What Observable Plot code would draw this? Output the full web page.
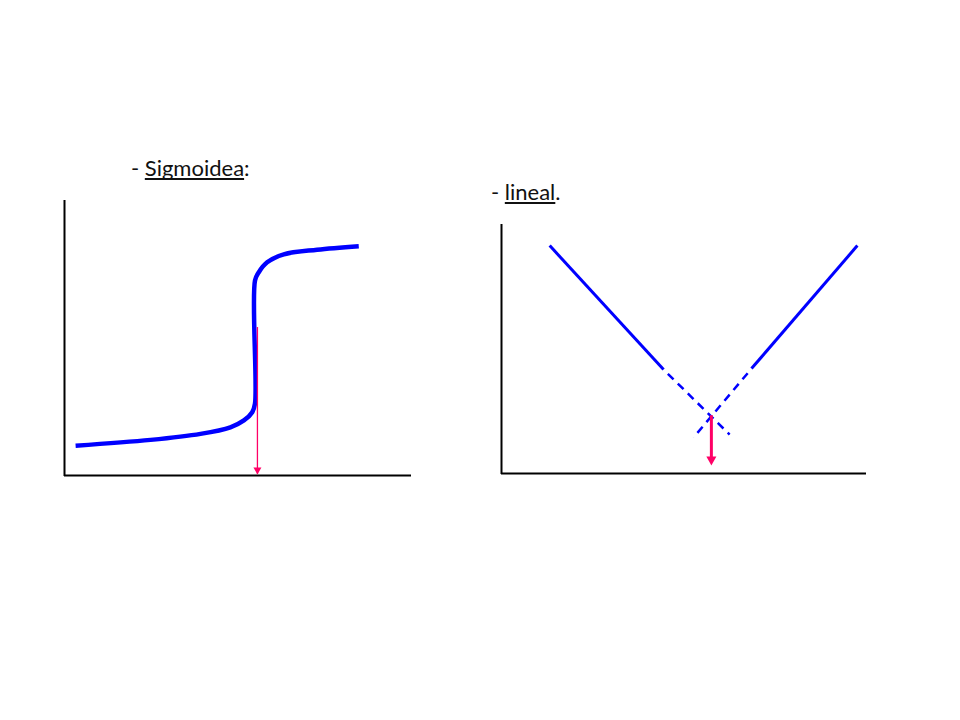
<!DOCTYPE html>
<html>
<head>
<meta charset="utf-8">
<script src="https://cdn.jsdelivr.net/npm/d3@7"></script>
<script src="https://cdn.jsdelivr.net/npm/@observablehq/plot@0.6"></script>
<style>
  html, body { margin: 0; padding: 0; background: #fff; }
  #page { position: relative; width: 960px; height: 720px; overflow: hidden; background: #fff;
          font-family: Lato, "Open Sans", sans-serif; }
  .titulo { position: absolute; font-size: 22px; line-height: 22px; color: #111; white-space: nowrap; }
  .titulo u { text-decoration-thickness: 2px; text-underline-offset: 2px; text-decoration-skip-ink: none; }
  .panel { position: absolute; }
  .panel svg { display: block; background: transparent; }
</style>
</head>
<body>
<div id="page">
  <div class="titulo" id="t1"></div>
  <div class="titulo" id="t2"></div>
  <div class="panel" id="p1"></div>
  <div class="panel" id="p2"></div>
</div>
<script>
// Panel titles
const titulos = ["Sigmoidea", "lineal"];
const finales = [":", "."];

// Sigmoid titration curve (arbitrary units 0–10 on both axes)
const sigX = [0.32, 2.48, 3.92, 4.78, 5.17, 5.41, 5.49, 5.49, 5.60, 5.84, 6.32, 7.28, 8.48];
const sigY = [1.09, 1.30, 1.52, 1.76, 2.01, 2.31, 2.62, 7.12, 7.42, 7.78, 8.07, 8.24, 8.37];
// End point marker on the sigmoid: x position and arrow from/to
const finalSigX = 5.56;
const flechaSigY = [5.40, 0.04];

// Linear titration: descending branch, ascending branch and their extrapolations
const descX = [1.32, 4.44], descY = [9.19, 4.19];
const descExtX = [4.44, 6.25], descExtY = [4.19, 1.57];
const ascX = [9.75, 6.85], ascY = [9.19, 4.23];
const ascExtX = [6.85, 5.26], ascExtY = [4.23, 1.45];
// End point at the intersection of both branches
const finalLinX = 5.75;
const flechaLinY = [2.33, 0.32];

const AZUL = "#0000ff";
const ROJO = "#ff0066";
const NEGRO = "#000000";

const puntos = (xs, ys) => xs.map((x, i) => ({x, y: ys[i]}));

// Downward filled arrowhead with its tip at the anchor point
function puntaAbajo(w, h) {
  return {
    draw(ctx) {
      ctx.moveTo(0, 0);
      ctx.lineTo(-w / 2, -h);
      ctx.lineTo(w / 2, -h);
      ctx.closePath();
    }
  };
}

function ejes() {
  return [
    Plot.ruleX([0], {y1: 0, y2: 10, stroke: NEGRO, strokeWidth: 2, strokeLinecap: "square"}),
    Plot.ruleY([0], {x1: 0, x2: 10, stroke: NEGRO, strokeWidth: 2, strokeLinecap: "butt"})
  ];
}

// Titles
function titulo(id, texto, fin, left, top) {
  const el = document.getElementById(id);
  el.innerHTML = "- <u>" + texto + "</u>" + fin;
  el.style.left = left + "px";
  el.style.top = top + "px";
}
titulo("t1", titulos[0], finales[0], 131, 157);
titulo("t2", titulos[1], finales[1], 491, 181);

// Left panel: sigmoid curve
const p1 = Plot.plot({
  width: 387, height: 294,
  marginLeft: 20, marginRight: 20, marginTop: 10, marginBottom: 10,
  x: {domain: [0, 10], axis: null},
  y: {domain: [0, 10], axis: null},
  marks: [
    ...ejes(),
    Plot.line(puntos(sigX, sigY), {x: "x", y: "y", stroke: AZUL, strokeWidth: 4.5,
      curve: "catmull-rom", strokeLinecap: "butt", strokeLinejoin: "round"}),
    Plot.ruleX([finalSigX], {y1: flechaSigY[0], y2: flechaSigY[1], stroke: ROJO, strokeWidth: 1.3}),
    Plot.dot([finalSigX], {x: d => d, y: () => flechaSigY[1], symbol: puntaAbajo(8, 7), r: 4,
      fill: ROJO, stroke: "none"})
  ]
});
const c1 = document.getElementById("p1");
c1.style.left = "44px"; c1.style.top = "191px";
c1.appendChild(p1);

// Right panel: linear branches and their extrapolation
const lineaSolida = {x: "x", y: "y", stroke: AZUL, strokeWidth: 3, strokeLinecap: "butt"};
const lineaDiscontinua = {x: "x", y: "y", stroke: AZUL, strokeWidth: 2.5, strokeLinecap: "butt",
  strokeDasharray: "8,6", strokeDashoffset: 8};
const p2 = Plot.plot({
  width: 405, height: 268,
  marginLeft: 20, marginRight: 20, marginTop: 10, marginBottom: 10,
  x: {domain: [0, 10], axis: null},
  y: {domain: [0, 10], axis: null},
  marks: [
    ...ejes(),
    Plot.line(puntos(descX, descY), lineaSolida),
    Plot.line(puntos(descExtX, descExtY), lineaDiscontinua),
    Plot.line(puntos(ascX, ascY), lineaSolida),
    Plot.line(puntos(ascExtX, ascExtY), lineaDiscontinua),
    Plot.ruleX([finalLinX], {y1: flechaLinY[0], y2: flechaLinY[1] + 0.2, stroke: ROJO, strokeWidth: 3}),
    Plot.dot([finalLinX], {x: d => d, y: () => flechaLinY[1], symbol: puntaAbajo(10, 9), r: 5,
      fill: ROJO, stroke: "none"})
  ]
});
const c2 = document.getElementById("p2");
c2.style.left = "481px"; c2.style.top = "215px";
c2.appendChild(p2);
</script>
</body>
</html>
